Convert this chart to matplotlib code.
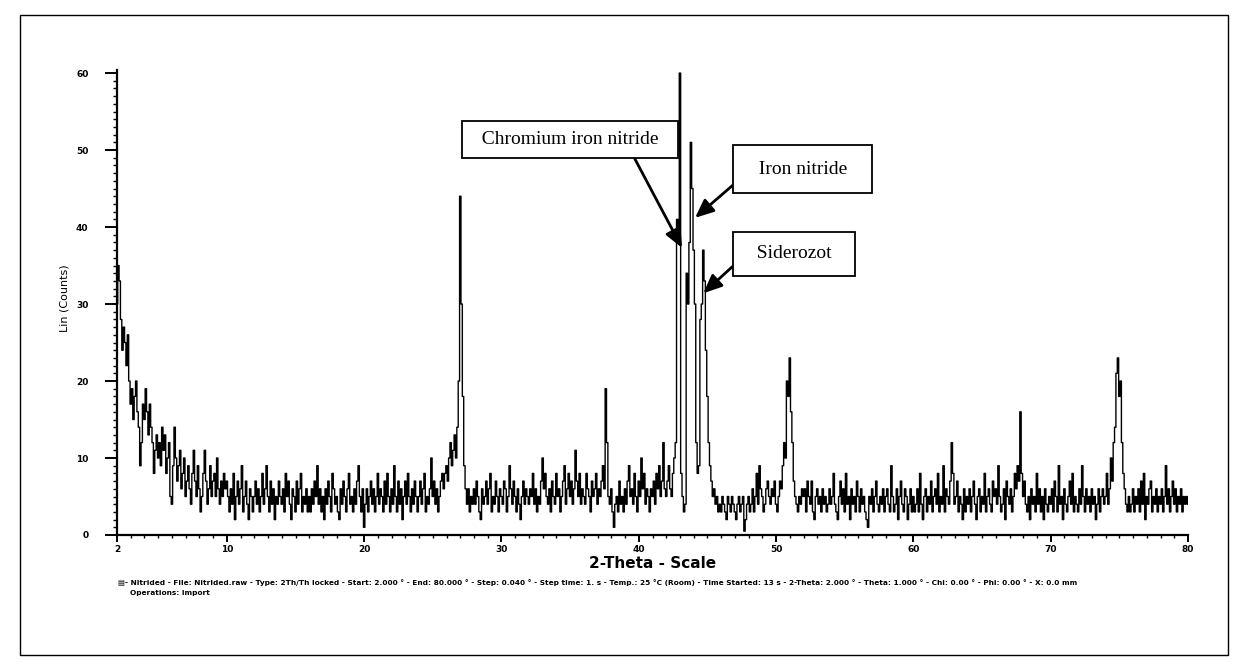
import numpy as np
import matplotlib
matplotlib.use("Agg")
import matplotlib.pyplot as plt
from matplotlib.ticker import MultipleLocator
from matplotlib.patches import Rectangle

# ---- data ----
two_theta_start = 2.0
two_theta_step = 0.1
counts = [
    30, 35, 33, 28, 24, 27, 25, 22, 26, 20, 17, 19, 15, 18, 20, 16, 14, 9, 12, 17,
    15, 19, 16, 13, 17, 14, 12, 8, 11, 13, 10, 12, 9, 14, 11, 13, 8, 10, 12, 5,
    4, 9, 14, 10, 7, 9, 11, 6, 8, 10, 5, 7, 9, 6, 4, 8, 11, 7, 5, 9,
    6, 3, 5, 8, 11, 7, 4, 6, 9, 5, 7, 8, 5, 10, 6, 4, 7, 5, 8, 6,
    7, 5, 3, 6, 4, 8, 2, 5, 7, 4, 6, 9, 3, 5, 7, 4, 2, 6, 5, 3,
    5, 7, 4, 6, 3, 5, 8, 4, 6, 9, 5, 3, 7, 4, 6, 2, 5, 4, 7, 5,
    4, 6, 3, 8, 5, 7, 4, 2, 6, 5, 3, 7, 4, 6, 8, 3, 5, 4, 6, 3,
    5, 3, 6, 4, 7, 5, 9, 4, 6, 3, 5, 2, 6, 4, 7, 5, 3, 8, 6, 4,
    5, 3, 2, 6, 4, 7, 5, 3, 6, 8, 4, 5, 3, 6, 4, 7, 9, 5, 3, 6,
    1, 4, 6, 3, 5, 7, 4, 6, 3, 5, 8, 4, 6, 5, 3, 7, 4, 8, 5, 3,
    6, 4, 9, 5, 3, 7, 4, 6, 2, 5, 7, 4, 8, 5, 3, 6, 4, 7, 5, 3,
    5, 7, 4, 6, 8, 3, 5, 4, 6, 10, 5, 7, 4, 6, 3, 5, 7, 8, 6, 8,
    9, 7, 10, 12, 9, 11, 13, 10, 14, 20, 44, 30, 18, 9, 6, 4, 6, 3, 5, 4,
    6, 4, 7, 5, 3, 2, 6, 4, 5, 7, 4, 6, 8, 3, 5, 4, 7, 5, 3, 6,
    5, 4, 7, 6, 3, 5, 9, 6, 4, 7, 5, 3, 6, 4, 2, 5, 7, 4, 6, 5,
    4, 6, 5, 8, 4, 6, 3, 5, 4, 7, 10, 6, 8, 5, 4, 6, 3, 7, 5, 4,
    8, 5, 6, 3, 5, 7, 9, 4, 6, 8, 5, 7, 4, 6, 11, 7, 5, 8, 4, 6,
    5, 4, 8, 6, 5, 3, 7, 5, 6, 8, 4, 6, 5, 7, 9, 6, 19, 12, 5, 4,
    6, 3, 1, 4, 5, 3, 7, 4, 5, 3, 6, 4, 7, 9, 5, 6, 4, 8, 5, 3,
    7, 5, 10, 6, 8, 4, 6, 5, 3, 6, 5, 7, 4, 8, 6, 9, 5, 7, 12, 6,
    5, 7, 9, 6, 5, 8, 10, 12, 41, 39, 60, 8, 5, 3, 4, 34, 30, 38, 51, 45,
    37, 30, 12, 8, 9, 28, 30, 37, 33, 24, 18, 12, 9, 7, 5, 6, 4, 5, 3, 4,
    3, 5, 4, 3, 2, 5, 4, 3, 5, 4, 3, 2, 4, 5, 3, 4, 5, 0.5, 2, 4,
    5, 3, 4, 6, 3, 5, 8, 4, 9, 6, 5, 3, 4, 6, 7, 5, 4, 6, 5, 7,
    4, 3, 5, 7, 6, 9, 12, 10, 20, 18, 23, 16, 12, 7, 5, 4, 3, 5, 4, 6,
    5, 6, 3, 7, 5, 4, 7, 3, 2, 5, 6, 4, 5, 3, 6, 4, 5, 3, 4, 6,
    4, 5, 8, 4, 3, 2, 5, 7, 4, 6, 3, 8, 4, 5, 2, 6, 4, 5, 3, 7,
    5, 3, 6, 4, 5, 3, 2, 1, 5, 4, 6, 3, 5, 7, 4, 3, 5, 4, 6, 3,
    5, 6, 4, 3, 9, 5, 3, 4, 6, 2, 5, 7, 4, 3, 6, 5, 2, 4, 6, 3,
    5, 3, 4, 6, 3, 8, 4, 2, 5, 6, 3, 5, 4, 7, 3, 5, 6, 4, 8, 3,
    5, 4, 9, 3, 6, 5, 4, 7, 12, 8, 4, 5, 7, 3, 5, 4, 2, 6, 3, 5,
    4, 6, 3, 5, 7, 4, 2, 5, 6, 3, 5, 4, 8, 3, 5, 6, 4, 3, 7, 5,
    6, 4, 9, 5, 3, 4, 6, 2, 7, 5, 4, 6, 3, 5, 8, 6, 9, 7, 16, 8,
    5, 7, 4, 3, 5, 2, 6, 4, 5, 3, 8, 4, 6, 3, 5, 2, 6, 4, 3, 5,
    4, 6, 3, 7, 5, 3, 9, 4, 5, 2, 6, 4, 3, 5, 7, 4, 8, 3, 5, 4,
    3, 6, 4, 9, 5, 3, 6, 4, 5, 3, 6, 4, 5, 2, 4, 6, 3, 5, 6, 4,
    5, 8, 4, 6, 10, 7, 12, 14, 21, 23, 18, 20, 12, 8, 6, 4, 3, 5, 3, 4,
    6, 3, 5, 4, 6, 3, 7, 4, 8, 2, 5, 4, 6, 7, 3, 5, 4, 6, 3, 5,
    4, 6, 3, 5, 9, 4, 6, 3, 5, 7, 4, 6, 3, 5, 4, 6, 3, 5, 4, 5,
    4,
]
two_theta = two_theta_start + two_theta_step * np.arange(len(counts))

x_ticks = [2, 10, 20, 30, 40, 50, 60, 70, 80]
x_tick_labels = ["2", "10", "20", "30", "40", "50", "60", "70", "80"]
y_ticks = [0, 10, 20, 30, 40, 50, 60]

phase_labels = ["Chromium iron nitride", "Iron nitride", "Siderozot"]
phase_peak_x = [43.15, 44.1, 44.7]
phase_peak_y = [37.3, 41.2, 31.4]
phase_text_x = [35.0, 51.95, 51.3]
phase_text_y = [51.4, 47.5, 36.5]

info_line1 = ("- Nitrided - File: Nitrided.raw - Type: 2Th/Th locked - Start: 2.000 \u00b0 - End: 80.000 \u00b0 - "
              "Step: 0.040 \u00b0 - Step time: 1. s - Temp.: 25 \u00b0C (Room) - Time Started: 13 s - "
              "2-Theta: 2.000 \u00b0 - Theta: 1.000 \u00b0 - Chi: 0.00 \u00b0 - Phi: 0.00 \u00b0 - X: 0.0 mm")
info_line2 = "Operations: Import"

# ---- figure ----
W, H = 1248, 670
fig = plt.figure(figsize=(W / 100, H / 100), dpi=100)
fig.patch.set_facecolor("white")
fig.patches.append(Rectangle((20 / W, 15 / H), 1208 / W, 640 / H, transform=fig.transFigure,
                             fill=False, ec="black", lw=1.0))

ax = fig.add_axes([117 / W, 1 - 535 / H, (1188 - 117) / W, (535 - 70) / H])
ax.plot(two_theta, counts, drawstyle="steps-mid", color="black", lw=1.0)
ax.set_xlim(2, 80)
ax.set_ylim(0, 60.4)

for s in ["top", "right"]:
    ax.spines[s].set_visible(False)
for s in ["left", "bottom"]:
    ax.spines[s].set_linewidth(1.6)

ax.set_xticks(x_ticks)
ax.set_xticklabels(x_tick_labels, fontsize=6.5, fontweight="bold")
ax.set_yticks(y_ticks)
ax.set_yticklabels([str(v) for v in y_ticks], fontsize=6.5, fontweight="bold")
ax.xaxis.set_minor_locator(MultipleLocator(1))
ax.yaxis.set_minor_locator(MultipleLocator(1))
ax.tick_params(axis="x", which="major", direction="out", length=5, width=1.4, pad=2.5)
ax.tick_params(axis="x", which="minor", direction="out", length=2.2, width=1.0)
ax.tick_params(axis="y", which="major", direction="out", length=8.5, width=1.4, pad=12)
ax.tick_params(axis="y", which="minor", direction="out", length=3, width=1.0)

ax.set_xlabel("2-Theta - Scale", fontsize=11, fontweight="bold")
ax.xaxis.set_label_coords(0.5, -0.045)
ax.set_ylabel("Lin (Counts)", fontsize=8)
ax.yaxis.set_label_coords(-0.044, 0.51)

relpos_list = [(0.8, 0.0), (0.0, 0.38), (0.0, 0.53)]
pads = [0.5, 0.8, 0.7]
for lab, px, py, tx, ty, rp, pd in zip(phase_labels, phase_peak_x, phase_peak_y,
                                       phase_text_x, phase_text_y, relpos_list, pads):
    ax.annotate("  " + lab + "  ", xy=(px, py), xytext=(tx, ty), textcoords="data",
                ha="center", va="center", fontsize=14, family="Liberation Serif",
                bbox=dict(boxstyle=f"square,pad={pd}", fc="white", ec="black", lw=1.3),
                arrowprops=dict(arrowstyle="-|>,head_length=0.8,head_width=0.35", color="black",
                                lw=2.0, relpos=rp, shrinkA=0, shrinkB=0),
                zorder=5)

fig.text(118 / W, 1 - 583 / H, "\u25a4" + info_line1, fontsize=5.3, fontweight="bold", va="center", ha="left")
fig.text(130 / W, 1 - 593 / H, info_line2, fontsize=5.3, fontweight="bold", va="center", ha="left")

fig.savefig("out.png", dpi=100)
